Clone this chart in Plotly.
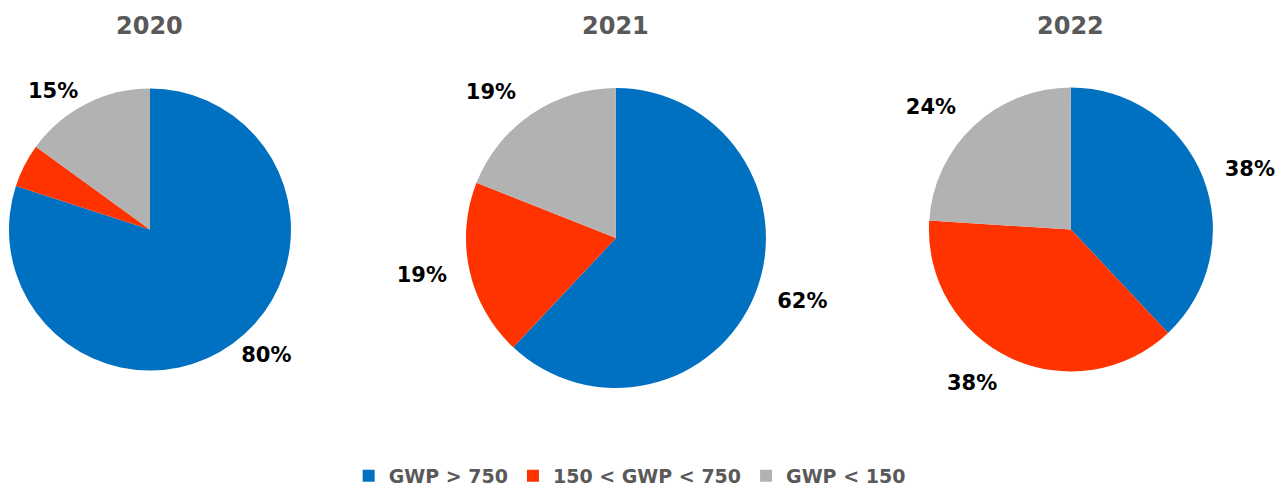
import plotly.graph_objects as go

years = ["2020", "2021", "2022"]
categories = ["GWP > 750", "150 < GWP < 750", "GWP < 150"]
values_2020 = [80, 5, 15]
values_2021 = [62, 19, 19]
values_2022 = [38, 38, 24]
show_label_2020 = [True, False, True]
show_label_2021 = [True, True, True]
show_label_2022 = [True, True, True]
colors = ["#0070C0", "#FF3300", "#B2B2B2"]

W, H = 1284, 495
# pie centres and radii in pixels
centers = [(150, 229.5), (616, 238), (1071, 229.5)]
radii = [141, 150, 142]
all_values = [values_2020, values_2021, values_2022]
all_show = [show_label_2020, show_label_2021, show_label_2022]

# empirical correction for plotly's plot-area placement
X0, XS = 5.0, 0.9962
LABEL_GAP = 17

FONT = "DejaVu Sans"


def domain(cx, cy, r):
    cx = (cx - X0) / XS
    r = r / XS
    r = min(r, cx, W - cx, cy, H - cy)
    return dict(x=[max(0, (cx - r) / W), min(1, (cx + r) / W)],
                y=[max(0, 1 - (cy + r) / H), min(1, 1 - (cy - r) / H)])


fig = go.Figure()
for yr, vals, show, (cx, cy), r in zip(years, all_values, all_show, centers, radii):
    fig.add_trace(go.Pie(
        labels=categories,
        values=vals,
        sort=False,
        direction="clockwise",
        rotation=0,
        marker=dict(colors=colors, line=dict(width=0)),
        textinfo="none",
        domain=domain(cx, cy, r),
        name=yr,
        hoverinfo="label+percent+name",
    ))
    # transparent companion ring that carries the percentage labels a bit further out
    tmpl = ["%{percent:.0%}" if s else "" for s in show]
    fig.add_trace(go.Pie(
        labels=categories,
        values=vals,
        sort=False,
        direction="clockwise",
        rotation=0,
        marker=dict(colors=["rgba(0,0,0,0)"] * len(vals), line=dict(width=0)),
        texttemplate=tmpl,
        textposition="outside",
        textfont=dict(family=FONT, size=21, color="#000000", weight="bold"),
        domain=domain(cx, cy, r + LABEL_GAP),
        showlegend=False,
        hoverinfo="skip",
    ))
    fig.add_annotation(
        x=((cx - X0) / XS) / W, y=1 - 26 / H, xref="paper", yref="paper",
        text=yr, showarrow=False, xanchor="center", yanchor="middle",
        font=dict(family=FONT, size=24, color="#595959", weight="bold"),
    )

fig.update_layout(
    width=W, height=H,
    margin=dict(l=0, r=0, t=0, b=0),
    paper_bgcolor="white",
    plot_bgcolor="white",
    showlegend=True,
    legend=dict(
        orientation="h", x=345 / W, xanchor="left", y=0, yanchor="bottom",
        font=dict(family=FONT, size=19, color="#595959", weight="bold"),
        itemwidth=30, tracegroupgap=0,
    ),
)

fig.write_html("out.html", config={"displayModeBar": False},
               post_script="document.body.style.margin='0';")
